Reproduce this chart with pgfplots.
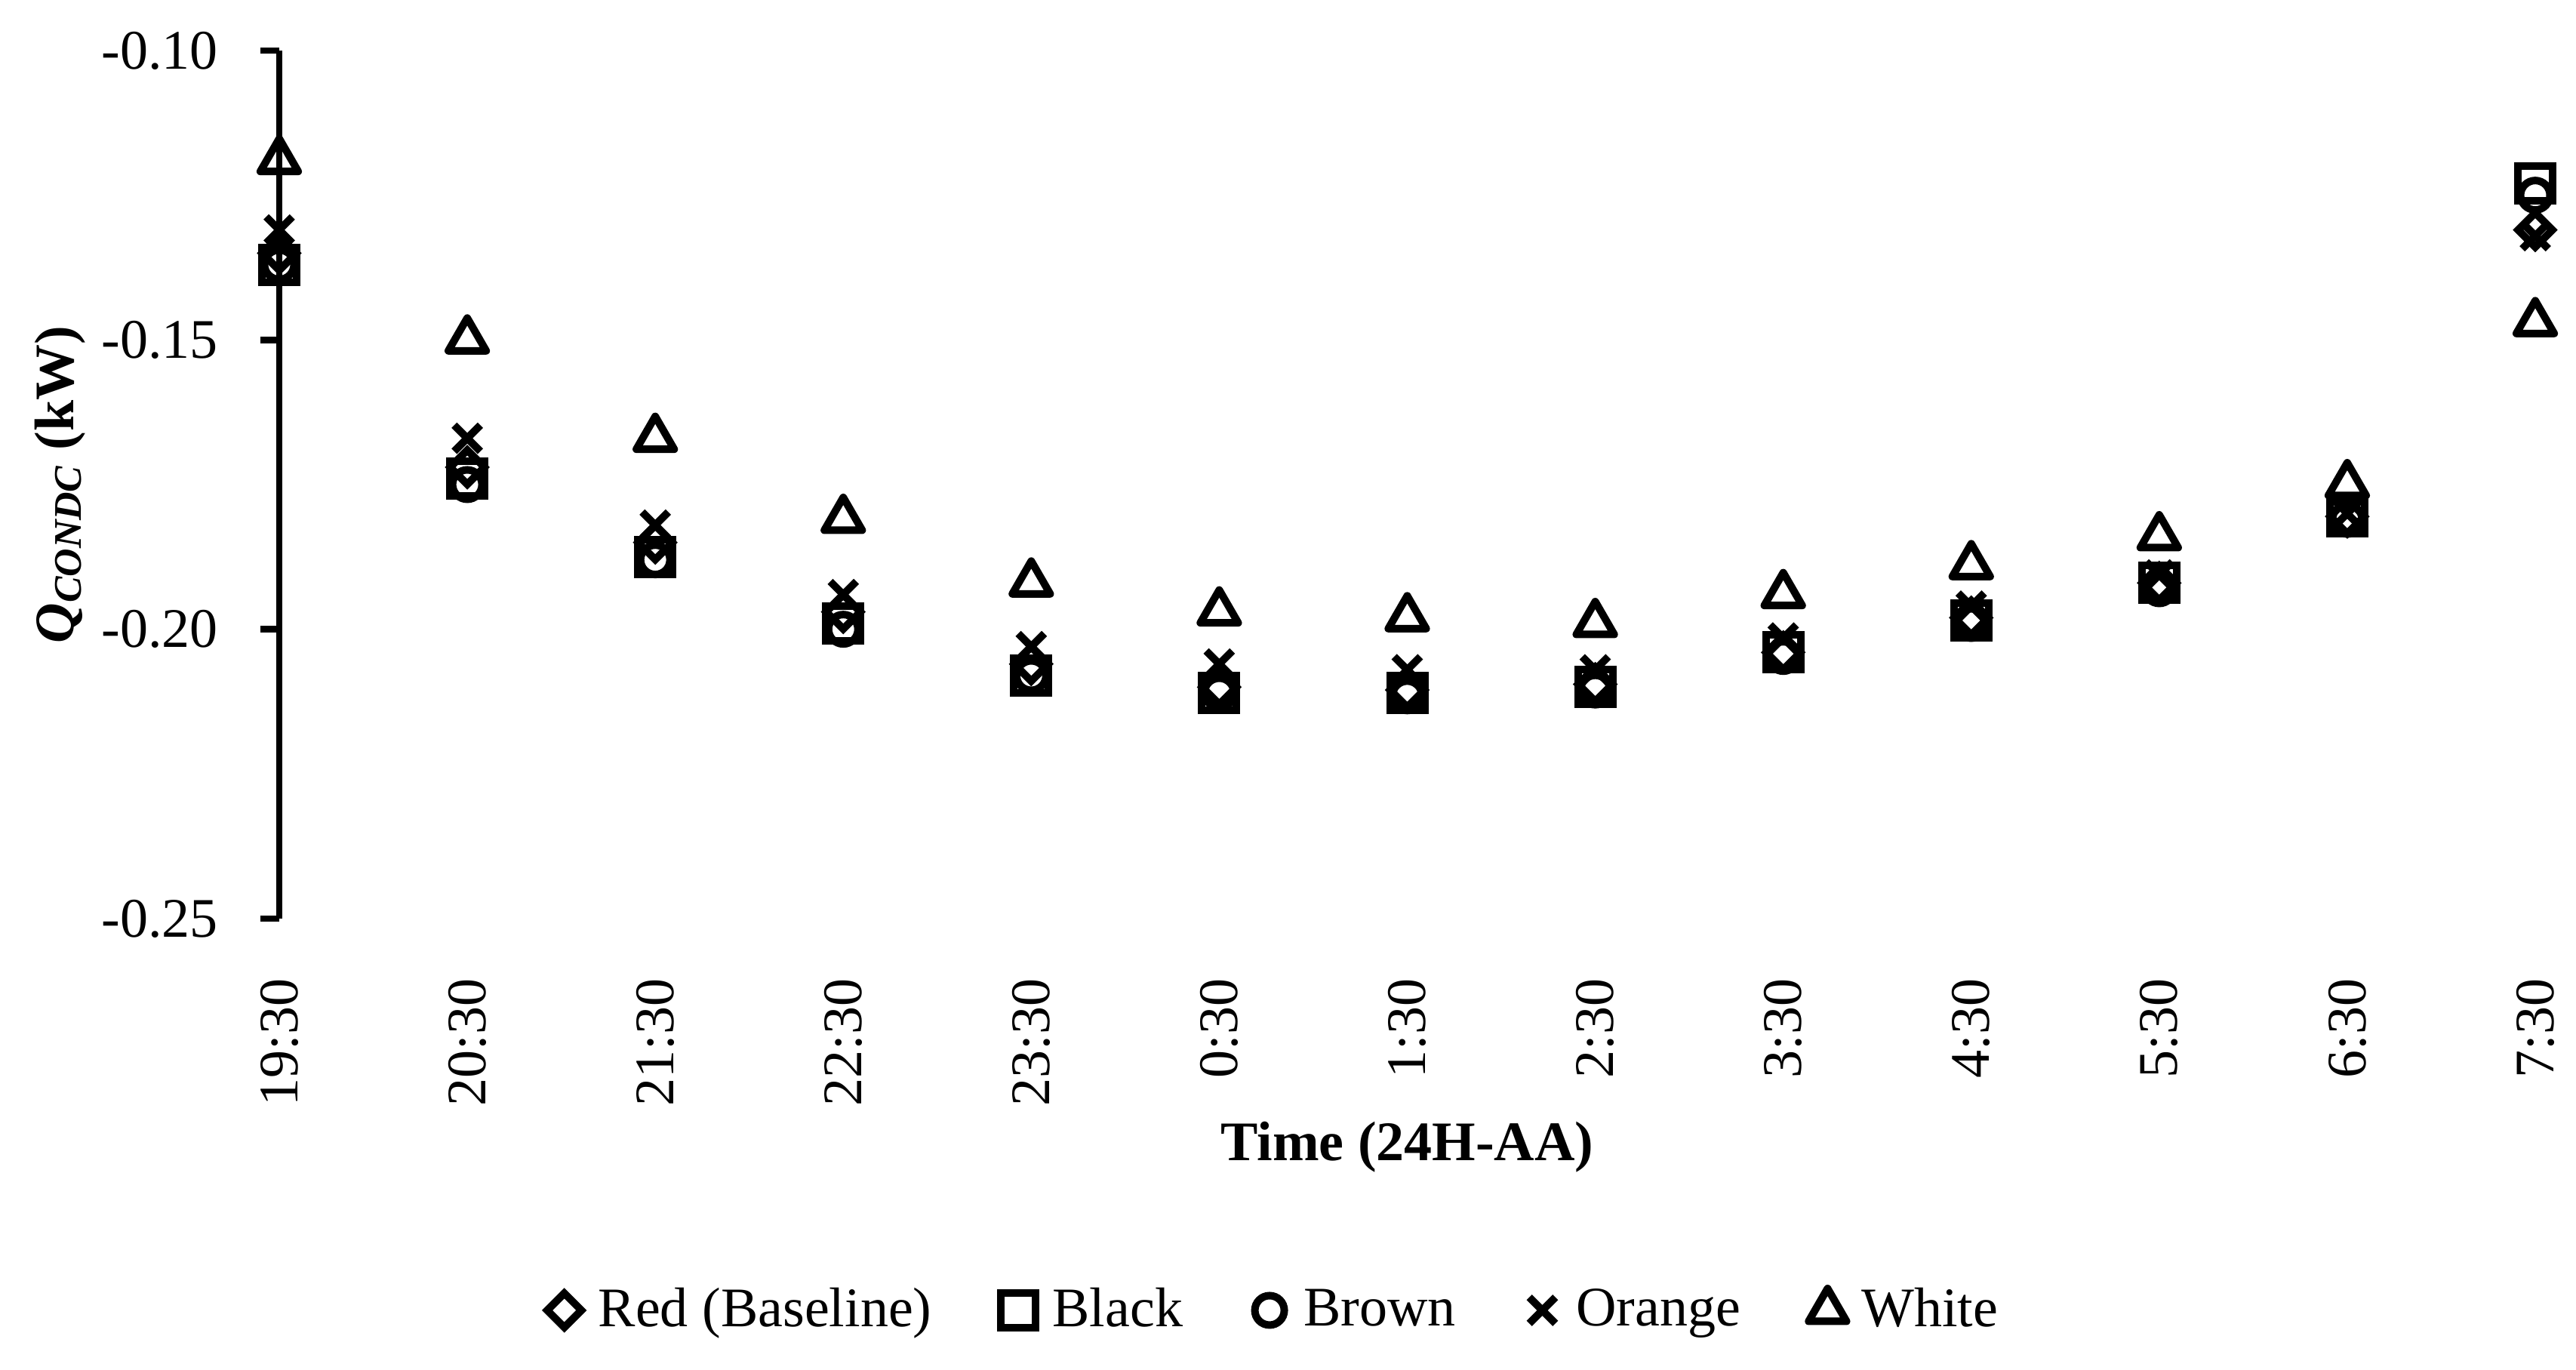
\documentclass[border=0pt]{standalone}
\usepackage{fontspec}
\setmainfont{Liberation Serif}
\usepackage{pgfplots}
\usepackage{pgfplotstable}
\pgfplotsset{compat=1.18}

% condenser heat per roof colour, hourly
\pgfplotstableread{
x red black brown orange white
0  -0.135 -0.137 -0.137 -0.131 -0.119
1  -0.172 -0.174 -0.175 -0.167 -0.150
2  -0.185 -0.1875 -0.188 -0.182 -0.167
3  -0.197 -0.199 -0.200 -0.194 -0.181
4  -0.206 -0.208 -0.208 -0.203 -0.192
5  -0.210 -0.211 -0.211 -0.206 -0.197
6  -0.2105 -0.211 -0.2115 -0.207 -0.198
7  -0.2095 -0.210 -0.2105 -0.207 -0.199
8  -0.204 -0.204 -0.2047 -0.2015 -0.194
9  -0.198 -0.1985 -0.199 -0.196 -0.189
10 -0.192 -0.192 -0.193 -0.1906 -0.184
11 -0.1805 -0.1805 -0.181 -0.180 -0.175
12 -0.131 -0.123 -0.125 -0.132 -0.147
}\data

\begin{document}
\begin{tikzpicture}[font=\fontsize{14.8}{17}\selectfont]
\path[use as bounding box] (-74pt,-119.6pt) rectangle (608.6pt,243.4pt);
\begin{axis}[at={(0,0)}, anchor=south west,
  scale only axis, width=597.8pt, height=230pt,
  xmin=0, xmax=12, ymin=-0.25, ymax=-0.10, clip=false,
  axis y line*=left, axis x line*=bottom,
  x axis line style={draw=none},
  y axis line style={line width=1.7pt},
  xtick={0,...,12},
  xticklabels={19:30,20:30,21:30,22:30,23:30,0:30,1:30,2:30,3:30,4:30,5:30,6:30,7:30},
  xtick style={draw=none},
  xticklabel style={rotate=90, anchor=east, inner sep=0pt},
  xticklabel shift=10.8pt,
  ytick={-0.25,-0.20,-0.15,-0.10},
  yticklabels={-0.25,-0.20,-0.15,-0.10},
  ytick style={line width=1.7pt, black},
  yticklabel style={anchor=east, inner sep=0pt},
  yticklabel shift=11pt,
  tick align=outside, major tick length=5pt,
  xlabel={\textbf{Time (24H-AA)}},
  xlabel style={at={(axis description cs:0.5,-0.2791)}, anchor=base},
  ylabel={\textbf{\textit{Q}\textsubscript{\textit{CONDC}} (kW)}},
  ylabel style={at={(axis description cs:-0.0913,0.5)}, rotate=0, anchor=base},
  legend columns=5,
  legend style={draw=none, at={(axis description cs:0.4416,-0.4513)}, anchor=center,
    /tikz/every even column/.append style={column sep=16pt}},
  legend image code/.code={\draw[#1] plot coordinates {(0pt,0pt)};
    \path[draw=none] (-5pt,0pt) (7pt,0pt);},
  every axis plot/.append style={black, only marks, line width=2pt},
]
\addplot[mark=square, mark size=3.2pt, mark options={rotate=45}] table[x=x,y=red]{\data};
\addlegendentry{Red (Baseline)}
\addplot[mark=square, mark size=4.6pt] table[x=x,y=black]{\data};
\addlegendentry{Black}
\addplot[mark=o, mark size=3.9pt] table[x=x,y=brown]{\data};
\addlegendentry{Brown}
\addplot[mark=x, mark size=4.9pt] table[x=x,y=orange]{\data};
\addlegendentry{Orange}
\addplot[mark=triangle, mark size=5.8pt, line join=round] table[x=x,y=white]{\data};
\addlegendentry{White}
\end{axis}
\end{tikzpicture}
\end{document}
